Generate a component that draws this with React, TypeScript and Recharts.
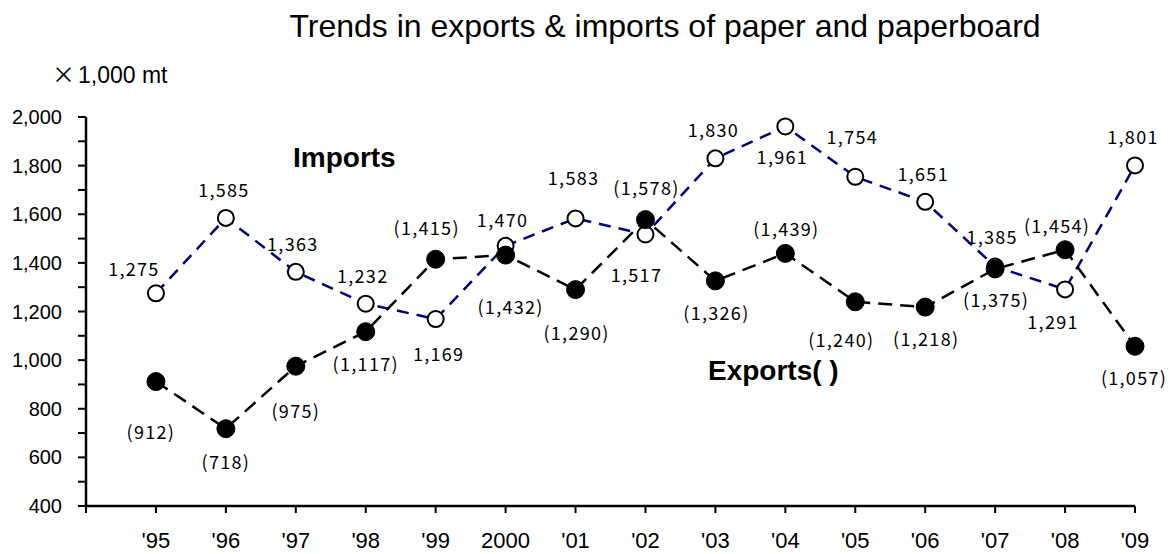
import { LineChart, Line, XAxis, YAxis } from "recharts";

const years = ["'95", "'96", "'97", "'98", "'99", "2000", "'01", "'02", "'03", "'04", "'05", "'06", "'07", "'08", "'09"];
const imports = [1275, 1585, 1363, 1232, 1169, 1470, 1583, 1517, 1830, 1961, 1754, 1651, 1385, 1291, 1801];
const exports = [912, 718, 975, 1117, 1415, 1432, 1290, 1578, 1326, 1439, 1240, 1218, 1375, 1454, 1057];
const yTicks = [400, 500, 600, 700, 800, 900, 1000, 1100, 1200, 1300, 1400, 1500, 1600, 1700, 1800, 1900, 2000];

// label placement (dx, dy from the marker), as in the original
const importsLabelPos = [
  [-22, -25], [-2, -29], [-3, -29], [-3, -29], [3, 34], [-3, -27], [-2, -41], [-9, 40],
  [-2, -29], [-3, 30], [-3, -41], [-2, -29], [-3, -31], [-12, 32], [-2, -29],
];
const exportsLabelPos = [
  [-5, 49], [0, 32], [0, 44], [0, 31], [-9, -32], [5, 51], [1, 42], [1, -33],
  [1, 31], [1, -25], [-14, 37], [1, 31], [1, 30], [-8, -25], [-1, 31],
];

const data = years.map((year, i) => ({
  x: i + 1,
  year,
  imports: imports[i],
  exports: exports[i],
}));

const xTicks = [0, ...years.map((_, i) => i + 1)];

const fmt = (v: number) => v.toLocaleString("en-US");
const labelFont = "'Noto Sans CJK JP', 'Liberation Sans', sans-serif";

const makeLabel = (pos: number[][], paren: boolean) => (props: any) => {
  const { x, y, value, index } = props;
  if (x == null || y == null) return null;
  const [dx, dy] = pos[index] || [0, -25];
  const txt = paren ? `(${fmt(value)})` : fmt(value);
  return (
    <text
      key={`lbl-${paren ? "e" : "i"}-${index}`}
      x={x + dx}
      y={y + dy}
      textAnchor="middle"
      dominantBaseline="central"
      fontSize={18}
      fontFamily={labelFont}
      letterSpacing={1.3}
      fill="#000"
    >
      {txt}
    </text>
  );
};

export default function App() {
  return (
    <div style={{ position: "absolute", left: 0, top: 0, width: 1173, height: 554, background: "#fff" }}>
      <LineChart width={1173} height={554} data={data} margin={{ top: 117, right: 38, bottom: 0, left: 6 }}>
        <XAxis
          dataKey="x"
          type="number"
          domain={[0, 15]}
          ticks={xTicks}
          interval={0}
          tickFormatter={(v: number) => (v === 0 ? "" : years[v - 1])}
          height={48}
          axisLine={{ stroke: "#000", strokeWidth: 2.5 }}
          tickLine={{ stroke: "#000", strokeWidth: 2 }}
          tickSize={7}
          tickMargin={19}
          tick={{ fontSize: 22, fill: "#000", fontFamily: "'Liberation Sans', Arial, sans-serif" }}
        />
        <YAxis
          domain={[400, 2000]}
          ticks={yTicks}
          interval={0}
          tickFormatter={(v: number) => (v % 200 === 0 ? fmt(v) : "")}
          width={80}
          axisLine={{ stroke: "#000", strokeWidth: 2.5 }}
          tickLine={{ stroke: "#000", strokeWidth: 2 }}
          tickSize={8}
          tickMargin={16}
          tick={{ fontSize: 20, fill: "#000", fontFamily: "'Liberation Sans', Arial, sans-serif" }}
        />
        <Line
          dataKey="imports"
          stroke="#000080"
          strokeWidth={2.5}
          strokeDasharray="12 8"
          isAnimationActive={false}
          dot={{ r: 8, fill: "#fff", stroke: "#000", strokeWidth: 2, strokeDasharray: "none" }}
          activeDot={false}
          label={makeLabel(importsLabelPos, false)}
        />
        <Line
          dataKey="exports"
          stroke="#000"
          strokeWidth={2.5}
          strokeDasharray="14 8"
          isAnimationActive={false}
          dot={{ r: 9, fill: "#000", stroke: "#000", strokeWidth: 1, strokeDasharray: "none" }}
          activeDot={false}
          label={makeLabel(exportsLabelPos, true)}
        />
      </LineChart>
      <svg
        width={1173}
        height={554}
        style={{ position: "absolute", left: 0, top: 0, pointerEvents: "none" }}
      >
        <text x={665} y={37} textAnchor="middle" fontSize={32} fontFamily="'Liberation Sans', Arial, sans-serif" fill="#000">
          Trends in exports &amp; imports of paper and paperboard
        </text>
        <text x={52} y={83} fontSize={23} fontFamily="'Noto Sans CJK JP', sans-serif" fill="#000">
          ×
        </text>
        <text x={78} y={83} fontSize={23} fontFamily="'Liberation Sans', Arial, sans-serif" fill="#000">
          1,000 mt
        </text>
        <text x={293} y={167} fontSize={28} fontWeight="bold" fontFamily="'Liberation Sans', Arial, sans-serif" fill="#000">
          Imports
        </text>
        <text x={708} y={380} fontSize={28} fontWeight="bold" fontFamily="'Liberation Sans', Arial, sans-serif" fill="#000">
          Exports( )
        </text>
      </svg>
    </div>
  );
}
